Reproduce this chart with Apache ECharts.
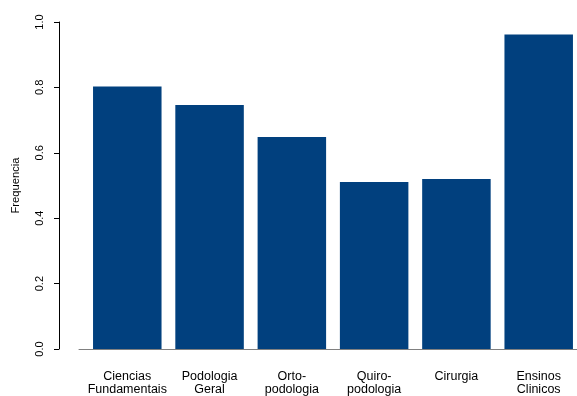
<!DOCTYPE html>
<html>
<head>
<meta charset="utf-8">
<script src="https://cdn.jsdelivr.net/npm/echarts@6/dist/echarts.min.js"></script>
<style>html,body{margin:0;padding:0;background:#fff;}#c{width:577px;height:396px;}</style>
</head>
<body>
<div id="c"></div>
<script>
const categories = ['Ciencias\nFundamentais', 'Podologia\nGeral', 'Orto-\npodologia', 'Quiro-\npodologia', 'Cirurgia', 'Ensinos\nClinicos'];
const frequencies = [0.803, 0.746, 0.648, 0.511, 0.520, 0.962];
const yTicks = [0, 0.2, 0.4, 0.6, 0.8, 1.0];

// barplot layout: bar width 1, space 0.2 -> centre of bar i at 0.7 + 1.2*i
const centres = categories.map((_, i) => 0.7 + 1.2 * i);

const chart = echarts.init(document.getElementById('c'), null, {renderer: 'canvas'});
const font = 'Liberation Sans, Arial, Helvetica, sans-serif';
chart.setOption({
  animation: false,
  backgroundColor: '#ffffff',
  grid: {left: 79, right: 0, top: 22, height: 327, containLabel: false},
  xAxis: {
    type: 'value', min: -0.0042, max: 7.2585,
    axisLine: {show: true, onZero: false, lineStyle: {color: '#808080', width: 1}},
    axisTick: {show: false},
    splitLine: {show: false},
    axisLabel: {
      customValues: centres,
      fontFamily: font, fontSize: 12.5, color: '#000', lineHeight: 13, margin: 21,
      showMinLabel: true, showMaxLabel: true,
      formatter: v => { const i = centres.findIndex(c => Math.abs(c - v) < 1e-6); return i >= 0 ? categories[i] : ''; }
    }
  },
  yAxis: {
    type: 'value', min: 0, max: 1, interval: 0.2, offset: 20,
    name: 'Frequencia', nameLocation: 'middle', nameGap: 38, nameRotate: 90,
    nameTextStyle: {fontFamily: font, fontSize: 11.2, color: '#000'},
    axisLine: {show: true, onZero: false, lineStyle: {color: '#000', width: 1}},
    axisTick: {show: true, length: 5, lineStyle: {color: '#000'}},
    axisLabel: {rotate: 90, margin: 14, fontFamily: font, fontSize: 11, color: '#000',
      formatter: v => { const t = yTicks.find(x => Math.abs(x - v) < 1e-9); return (t === undefined ? v : t).toFixed(1); }},
    splitLine: {show: false}
  },
  series: [{
    type: 'bar', data: centres.map((c, i) => [c, frequencies[i]]),
    barWidth: 68.5,
    itemStyle: {color: '#01407E'}
  }]
});
</script>
</body>
</html>
